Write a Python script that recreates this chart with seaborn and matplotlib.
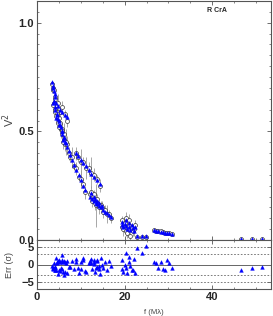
import matplotlib
matplotlib.use("Agg")
import matplotlib.pyplot as plt
import numpy as np
import pandas as pd
import seaborn as sns
from matplotlib.ticker import MultipleLocator

# spatial frequency (M lambda), grouped by baseline clusters
f = [3.45, 3.6, 3.75, 3.9, 4.05, 4.2,
     3.8, 4.3, 4.8, 5.3, 5.8, 6.3, 6.8,
     3.7, 4.1, 4.5, 4.9, 5.3, 5.7, 6.1, 6.5, 6.9, 7.2,
     4.2, 4.6, 5.0, 5.4, 5.8, 6.2, 6.6,
     4.4, 5.1, 5.6, 6.0,
     7.6, 8.0, 8.5, 9.0, 9.5, 10.0, 10.5, 11.0,
     8.8, 9.4, 10.0, 10.6, 11.2, 11.8, 12.4, 13.0, 13.6, 14.3,
     12.2, 12.6, 13.0, 13.4, 13.8, 14.2, 14.6, 15.0, 15.5, 16.0, 16.5, 17.0,
     12.4, 12.9, 13.3, 13.7, 14.1, 14.9,
     19.3, 19.5, 19.7, 20.0, 20.2, 20.4, 20.6, 20.9, 21.1, 21.3, 21.6, 21.8, 22.1, 22.3,
     22.9, 23.9, 24.9,
     26.7, 27.2, 27.7, 28.2, 28.7, 29.2, 29.7, 30.2, 30.8,
     46.6, 49.0, 51.4]

# model V^2 (blue triangles)
v2_model = [0.725, 0.71, 0.70, 0.685, 0.67, 0.66,
            0.64, 0.63, 0.615, 0.60, 0.59, 0.575, 0.565,
            0.63, 0.61, 0.58, 0.555, 0.53, 0.50, 0.475, 0.45, 0.43, 0.41,
            0.60, 0.575, 0.55, 0.52, 0.50, 0.47, 0.445,
            0.56, 0.53, 0.49, 0.46,
            0.39, 0.37, 0.345, 0.32, 0.30, 0.275, 0.25, 0.23,
            0.40, 0.385, 0.37, 0.355, 0.34, 0.32, 0.305, 0.29, 0.275, 0.26,
            0.20, 0.19, 0.18, 0.17, 0.165, 0.155, 0.15, 0.14, 0.13, 0.125, 0.115, 0.105,
            0.215, 0.20, 0.19, 0.18, 0.17, 0.155,
            0.07, 0.085, 0.06, 0.075, 0.09, 0.065, 0.05, 0.08, 0.06, 0.045, 0.07, 0.055, 0.04, 0.06,
            0.02, 0.02, 0.02,
            0.045, 0.043, 0.041, 0.039, 0.037, 0.034, 0.032, 0.03, 0.028,
            0.006, 0.006, 0.006]

# observed V^2 (open circles) and their errors
v2_obs = [0.72, 0.70, 0.69, 0.69, 0.66, 0.65,
          0.63, 0.62, 0.63, 0.59, 0.61, 0.58, 0.55,
          0.62, 0.60, 0.59, 0.54, 0.54, 0.49, 0.49, 0.44, 0.44, 0.40,
          0.59, 0.58, 0.56, 0.51, 0.51, 0.46, 0.45,
          0.57, 0.52, 0.50, 0.45,
          0.38, 0.38, 0.34, 0.33, 0.29, 0.28, 0.26, 0.22,
          0.40, 0.38, 0.36, 0.36, 0.33, 0.33, 0.31, 0.30, 0.28, 0.25,
          0.21, 0.18, 0.19, 0.16, 0.17, 0.15, 0.16, 0.13, 0.14, 0.12, 0.12, 0.10,
          0.22, 0.21, 0.17, 0.19, 0.16, 0.15,
          0.06, 0.09, 0.05, 0.08, 0.10, 0.04, 0.03, 0.09, 0.07, 0.02, 0.06, 0.04, 0.05, 0.07,
          0.015, 0.015, 0.015,
          0.045, 0.042, 0.04, 0.04, 0.036, 0.033, 0.031, 0.03, 0.027,
          0.006, 0.006, 0.006]

v2_err = [0.01, 0.02, 0.015, 0.02, 0.02, 0.03,
          0.02, 0.03, 0.04, 0.02, 0.03, 0.02, 0.03,
          0.02, 0.02, 0.03, 0.02, 0.03, 0.02, 0.05, 0.03, 0.04, 0.03,
          0.02, 0.03, 0.02, 0.04, 0.03, 0.02, 0.06,
          0.03, 0.02, 0.04, 0.03,
          0.02, 0.05, 0.02, 0.03, 0.02, 0.04, 0.02, 0.03,
          0.03, 0.02, 0.06, 0.02, 0.05, 0.03, 0.07, 0.03, 0.02, 0.03,
          0.02, 0.03, 0.02, 0.10, 0.02, 0.03, 0.02, 0.03, 0.02, 0.04, 0.02, 0.02,
          0.03, 0.02, 0.03, 0.02, 0.02, 0.03,
          0.02, 0.02, 0.03, 0.02, 0.03, 0.02, 0.02, 0.03, 0.02, 0.03, 0.02, 0.02, 0.03, 0.02,
          0.01, 0.01, 0.01,
          0.005, 0.005, 0.005, 0.005, 0.005, 0.005, 0.005, 0.005, 0.005,
          0.003, 0.003, 0.003]

# residuals in sigma
resid = [-0.5, -1.2, -1.0, 0.4, -1.5, -0.8,
         -0.9, -1.6, 0.9, -1.8, 1.2, 0.6, -2.4,
         -1.1, -1.5, 0.7, -2.6, 0.8, -1.3, 1.0, -2.1, 0.9, -0.7,
         -0.8, 0.5, 1.4, -0.9, 0.8, -2.9, 0.3,
         1.9, -1.6, 2.8, -2.2,
         -0.8, 0.9, -1.3, 1.5, -2.5, 0.7, 1.2, -1.9,
         0.6, -0.9, -1.4, 1.8, -2.1, 0.4, 1.6, 0.2, -0.6, -2.8,
         1.0, -1.4, 0.8, -0.9, 1.2, -0.5, 1.9, -1.1, 0.6, -1.6, 0.9, -0.4,
         0.3, 1.4, -2.0, 1.1, -1.3, -0.2,
         -1.4, 1.4, -2.1, 0.0, 3.4, -0.9, -2.3, 0.6, 2.2, -0.4, -1.6, -1.6, 1.5, -2.3,
         4.8, 3.4, 5.3,
         0.6, 0.5, -0.9, 0.6, -1.3, -1.6, 1.2, 0.3, -1.1,
         -1.6, -0.9, -0.7]

df = pd.DataFrame({'f': f, 'model': v2_model, 'obs': v2_obs,
                   'err': v2_err, 'resid': resid})

sns.set_style('ticks', {'xtick.direction': 'in', 'ytick.direction': 'in'})
plt.rcParams['font.family'] = ['Liberation Sans', 'DejaVu Sans']
frame_col = '#555555'

fig = plt.figure(figsize=(2.73, 3.16), dpi=100)
ax1 = fig.add_axes([37/273, 1-240/316, 234/273, 239/316])
ax2 = fig.add_axes([37/273, 1-289/316, 234/273, 49/316])

# top panel
ax1.vlines(df['f'], df['obs']-df['err'], df['obs']+df['err'], color='#999999', lw=0.6, zorder=1)
sns.scatterplot(data=df, x='f', y='obs', ax=ax1, marker='o', s=8,
                facecolor='white', edgecolor='#222222', linewidth=0.45, zorder=2)
sns.scatterplot(data=df, x='f', y='model', ax=ax1, marker='^', s=7,
                color='#0000ff', edgecolor='#0000ff', linewidth=0.3, zorder=3)
ax1.set_xlim(0, 53.4)
ax1.set_ylim(0, 1.1)
ax1.set_xlabel('')
ax1.set_ylabel('V$^2$', fontsize=8, color='#444444')
ax1.yaxis.set_label_coords(-0.085, 0.5)
ax1.set_yticks([0.0, 0.5, 1.0])
ax1.set_yticklabels(['0.0', '0.5', '1.0'], fontweight='bold', fontsize=8)
ax1.yaxis.set_minor_locator(MultipleLocator(0.05))
ax1.xaxis.set_major_locator(MultipleLocator(20))
ax1.xaxis.set_minor_locator(MultipleLocator(5))
ax1.tick_params(labelbottom=False, top=True, right=True, which='both', color=frame_col, pad=2)
ax1.tick_params(which='major', length=3, width=0.6)
ax1.tick_params(which='minor', length=1.5, width=0.5)
ax1.text(0.77, 0.975, 'R CrA', transform=ax1.transAxes, fontsize=5, fontweight='bold',
         ha='center', va='top')

# residual panel
for yv in [-5, -3, 3, 5]:
    ax2.axhline(yv, color='#666666', lw=0.6, ls=(0, (2, 2)), zorder=1)
ax2.axhline(0, color='#666666', lw=0.7, zorder=1)
sns.scatterplot(data=df, x='f', y='resid', ax=ax2, marker='^', s=7,
                color='#0000ff', edgecolor='#0000ff', linewidth=0.3, zorder=3)
ax2.set_xlim(0, 53.4)
ax2.set_ylim(-7, 7)
ax2.set_yticks([-5, 0, 5])
ax2.set_yticklabels(['\u22125', '0', '5'], fontweight='bold', fontsize=8)
ax2.xaxis.set_major_locator(MultipleLocator(20))
ax2.xaxis.set_minor_locator(MultipleLocator(5))
ax2.set_xticks([0, 20, 40])
ax2.set_xticklabels(['0', '20', '40'], fontweight='bold', fontsize=8)
ax2.tick_params(top=True, right=True, which='both', color=frame_col, pad=2)
ax2.tick_params(which='major', length=3, width=0.6)
ax2.tick_params(which='minor', length=1.5, width=0.5)
ax2.set_ylabel('Err (\u03c3)', fontsize=6.5, color='#444444')
ax2.yaxis.set_label_coords(-0.1, 0.5)
ax2.set_xlabel('f (M\u03bb)', fontsize=5.5, color='#444444', labelpad=5)

for ax in (ax1, ax2):
    for sp in ax.spines.values():
        sp.set_color(frame_col)
        sp.set_linewidth(0.8)

fig.savefig('out.png', dpi=100)
